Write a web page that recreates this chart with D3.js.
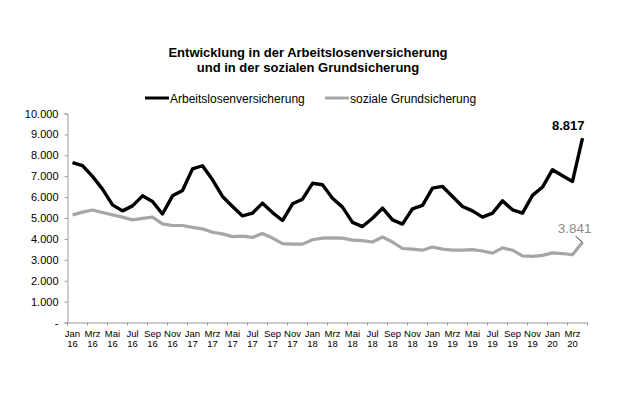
<!DOCTYPE html>
<html>
<head>
<meta charset="utf-8">
<script src="https://cdn.jsdelivr.net/npm/d3@7"></script>
<style>
  body { margin: 0; background: #fff; }
  text { font-family: "Liberation Sans", Arial, sans-serif; }
</style>
</head>
<body>
<svg id="chart" width="624" height="396"></svg>
<script>
const monthNames = ['Jan', 'Feb', 'Mrz', 'Apr', 'Mai', 'Jun', 'Jul', 'Aug', 'Sep', 'Okt', 'Nov', 'Dez'];
const years = ['16', '17', '18', '19', '20'];

// Jan 16 .. Apr 20, in Tausend
const arbeitslosen = [
  7.65, 7.51, 6.99, 6.38, 5.63, 5.34, 5.58, 6.06, 5.79, 5.19, 6.06, 6.32,
  7.35, 7.50, 6.83, 6.03, 5.55, 5.10, 5.23, 5.71, 5.26, 4.88, 5.68, 5.90,
  6.66, 6.59, 5.95, 5.52, 4.79, 4.59, 4.99, 5.47, 4.91, 4.71, 5.44, 5.60,
  6.43, 6.51, 6.03, 5.55, 5.34, 5.04, 5.23, 5.82, 5.39, 5.23, 6.08, 6.48,
  7.31, 7.02, 6.75, 8.817
];
const grundsicherung = [
  5.15, 5.28, 5.38, 5.26, 5.15, 5.04, 4.91, 4.98, 5.04, 4.72, 4.64, 4.64,
  4.55, 4.48, 4.32, 4.24, 4.11, 4.13, 4.07, 4.26, 4.04, 3.77, 3.75, 3.75,
  3.96, 4.04, 4.05, 4.04, 3.94, 3.92, 3.85, 4.09, 3.85, 3.54, 3.51, 3.46,
  3.61, 3.51, 3.46, 3.46, 3.49, 3.42, 3.32, 3.57, 3.46, 3.19, 3.16, 3.21,
  3.33, 3.30, 3.24, 3.841
];
const yTicks = [0, 1000, 2000, 3000, 4000, 5000, 6000, 7000, 8000, 9000, 10000];

const months = arbeitslosen.map((d, i) => ({
  label: monthNames[i % 12],
  year: years[Math.floor(i / 12)],
  idx: i
}));

const svg = d3.select('#chart');
const fmt = v => v === 0 ? '-' : d3.format(',.0f')(v).replace(/,/g, '.');

const x = d3.scaleBand()
  .domain(months.map(d => d.idx))
  .range([67.5, 587.5]);

const y = d3.scaleLinear()
  .domain([0, 10000])
  .range([322.5, 113.5]);

// title
svg.append('text')
  .attr('x', 308).attr('y', 57)
  .attr('text-anchor', 'middle')
  .attr('font-size', 13).attr('font-weight', 'bold')
  .text('Entwicklung in der Arbeitslosenversicherung');
svg.append('text')
  .attr('x', 308).attr('y', 71.5)
  .attr('text-anchor', 'middle')
  .attr('font-size', 13).attr('font-weight', 'bold')
  .text('und in der sozialen Grundsicherung');

// legend
const legend = [
  { name: 'Arbeitslosenversicherung', color: '#000', x: 145 },
  { name: 'soziale Grundsicherung', color: '#a6a6a6', x: 325 }
];
const lg = svg.append('g').selectAll('g').data(legend).join('g')
  .attr('transform', d => `translate(${d.x},98)`);
lg.append('line')
  .attr('x1', 0).attr('x2', 24)
  .attr('stroke', d => d.color).attr('stroke-width', 3);
lg.append('text')
  .attr('x', 25).attr('y', 4.5)
  .attr('font-size', 12)
  .text(d => d.name);

// y axis
const yAxis = svg.append('g')
  .attr('transform', 'translate(67.5,0)')
  .call(d3.axisLeft(y).tickValues(yTicks).tickFormat(fmt).tickSize(3).tickPadding(6));
yAxis.selectAll('text').attr('font-size', 11).attr('fill', '#000')
  .style('font-family', '"Liberation Sans", Arial, sans-serif');
yAxis.selectAll('line, path').attr('stroke', '#999');

// x axis
const xAxis = svg.append('g')
  .attr('transform', 'translate(0,322.5)')
  .call(d3.axisBottom(x)
    .tickValues(months.filter(d => d.idx % 2 === 0).map(d => d.idx))
    .tickSize(0).tickFormat(''));
xAxis.selectAll('path').attr('stroke', '#999');
xAxis.selectAll('.tick line').remove();

xAxis.selectAll('.xtick')
  .data(months.filter(d => d.idx % 2 === 0).concat([{ idx: 52 }]))
  .join('line')
  .attr('x1', d => 67.5 + d.idx * x.bandwidth())
  .attr('x2', d => 67.5 + d.idx * x.bandwidth())
  .attr('y1', 0).attr('y2', 3)
  .attr('stroke', '#999');

const xl = xAxis.selectAll('.xlab')
  .data(months.filter(d => d.idx % 2 === 0))
  .join('text')
  .attr('text-anchor', 'middle')
  .attr('font-size', 9.5)
  .attr('fill', '#000');
xl.append('tspan')
  .attr('x', d => x(d.idx) + x.bandwidth() / 2).attr('y', 14)
  .text(d => d.label);
xl.append('tspan')
  .attr('x', d => x(d.idx) + x.bandwidth() / 2).attr('y', 24)
  .text(d => d.year);

// lines
const line = d3.line()
  .x((d, i) => x(i) + x.bandwidth() / 2)
  .y(d => y(d * 1000));

svg.append('path')
  .datum(grundsicherung)
  .attr('fill', 'none')
  .attr('stroke', '#a6a6a6')
  .attr('stroke-width', 3.2)
  .attr('stroke-linejoin', 'round')
  .attr('d', line);

svg.append('path')
  .datum(arbeitslosen)
  .attr('fill', 'none')
  .attr('stroke', '#000')
  .attr('stroke-width', 3.4)
  .attr('stroke-linejoin', 'round')
  .attr('d', line);

// end labels
const last = arbeitslosen.length - 1;
const lx = x(last) + x.bandwidth() / 2;
svg.append('text')
  .attr('x', lx + 2).attr('y', y(arbeitslosen[last] * 1000) - 8)
  .attr('text-anchor', 'end')
  .attr('font-size', 13).attr('font-weight', 'bold')
  .text(fmt(arbeitslosen[last] * 1000));

svg.append('line')
  .attr('x1', lx - 7).attr('y1', y(grundsicherung[last] * 1000) - 6)
  .attr('x2', lx).attr('y2', y(grundsicherung[last] * 1000))
  .attr('stroke', '#333').attr('stroke-width', 1);
svg.append('text')
  .attr('x', lx + 9).attr('y', y(grundsicherung[last] * 1000) - 9)
  .attr('text-anchor', 'end')
  .attr('font-size', 13.5)
  .attr('fill', '#8c8c8c')
  .text(fmt(grundsicherung[last] * 1000));
</script>
</body>
</html>
